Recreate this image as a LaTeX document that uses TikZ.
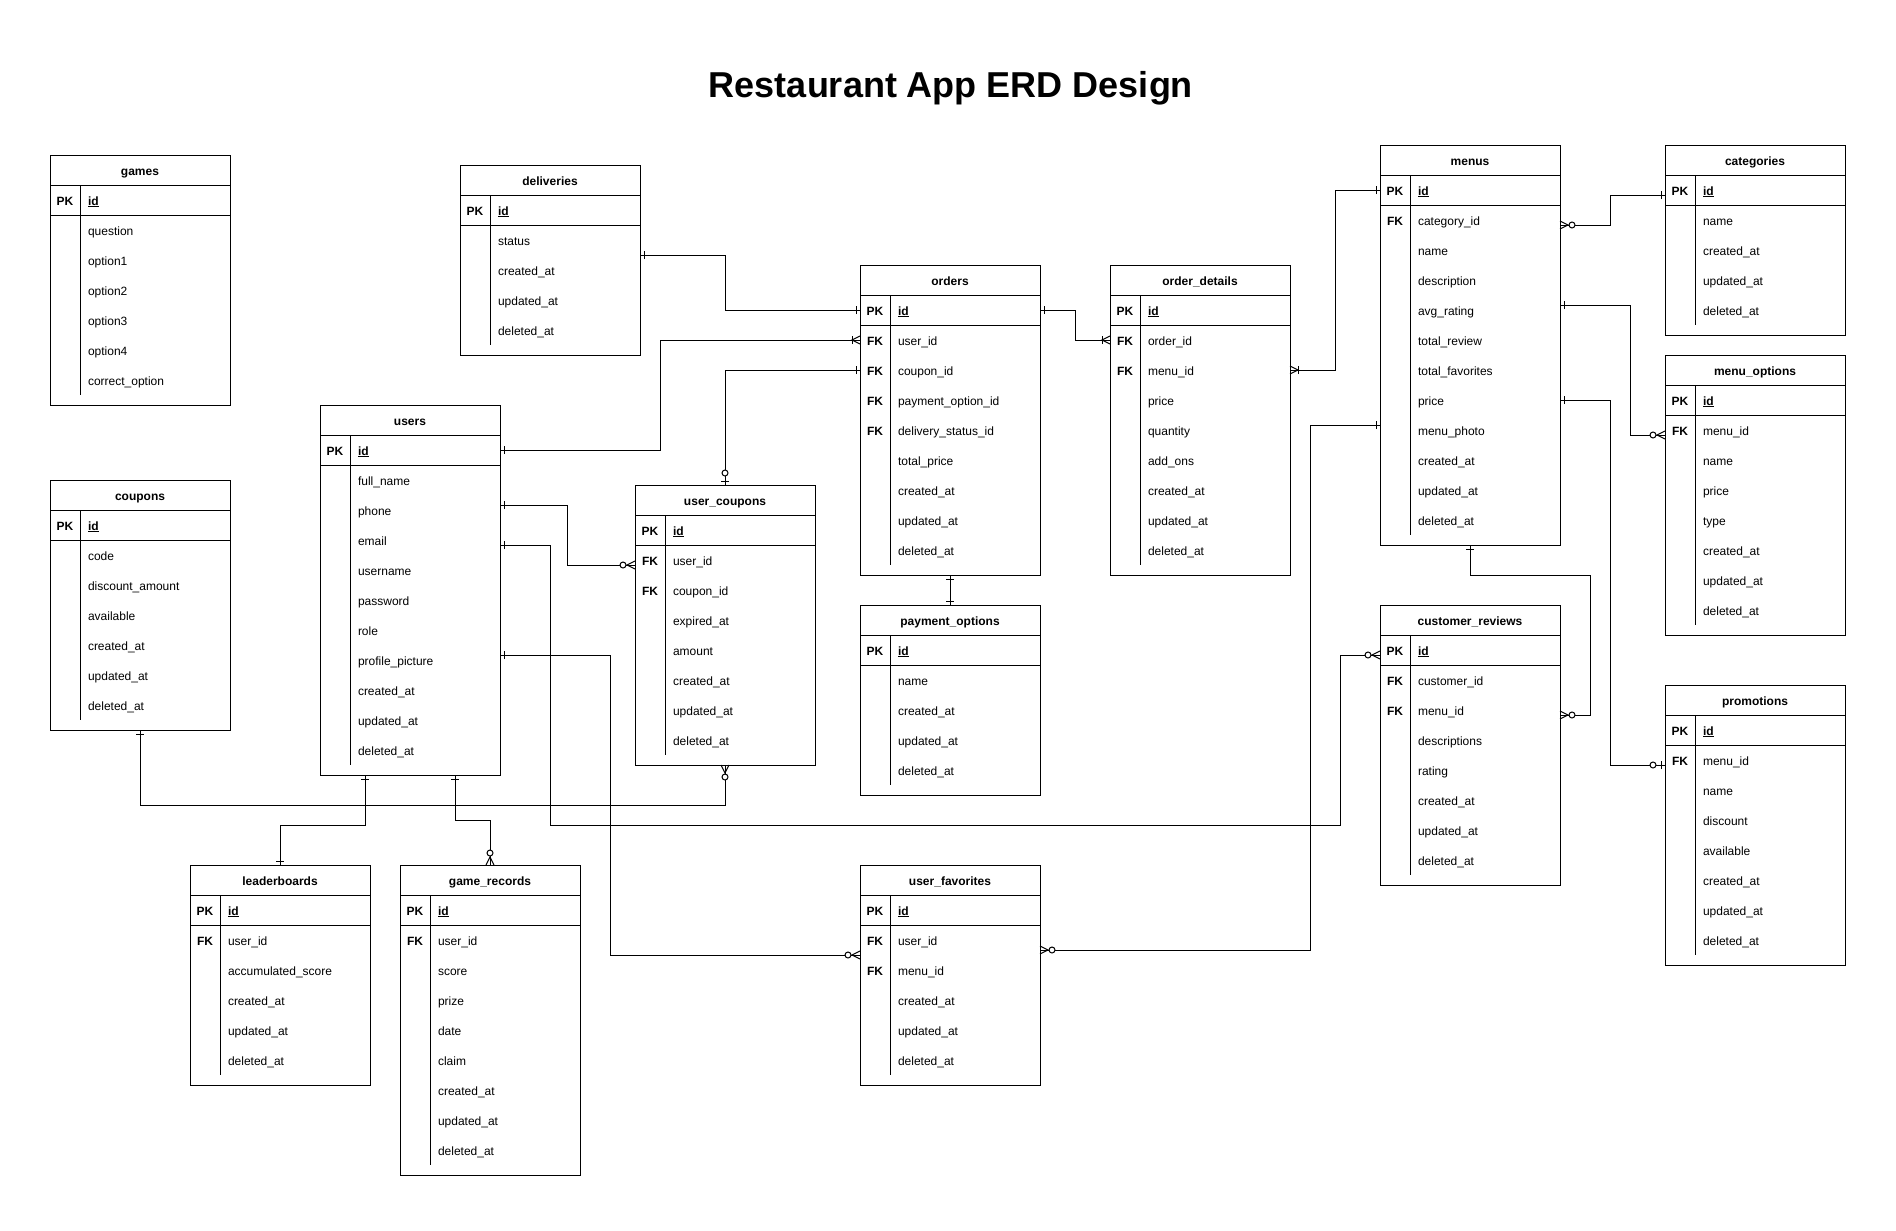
\documentclass[tikz,border=0pt]{standalone}
\usepackage{fontspec}
\setmainfont{Liberation Sans}
\usetikzlibrary{calc,decorations.markings}
\newcommand\pkid{\textbf{\underline{id}}}
\newcommand\mkOne{\draw (-4pt,-4pt)--(-4pt,4pt);}
\newcommand\mkZOne{\draw (-4pt,-4pt)--(-4pt,4pt); \draw[fill=white] (-12pt,0pt) circle[radius=3pt];}
\newcommand\mkOMany{\draw (0pt,-4pt)--(-8pt,0pt)--(0pt,4pt); \draw (-8pt,-4pt)--(-8pt,4pt);}
\newcommand\mkZMany{\draw (0pt,-4pt)--(-8pt,0pt)--(0pt,4pt); \draw[fill=white] (-12pt,0pt) circle[radius=3pt];}
\tikzset{
  tframe/.style={draw, fill=white, minimum width=180pt, inner sep=0pt, outer sep=0pt, anchor=north west},
  trow/.style={minimum width=180pt, minimum height=30pt, inner sep=0pt, outer sep=0pt},
  ttext/.style={inner sep=0pt, outer sep=0pt, font=\fontsize{12}{14}\selectfont, text height=11pt, text depth=1pt},
  thead/.style={ttext, font=\fontsize{12}{14}\selectfont\bfseries},
  tkey/.style={ttext, font=\fontsize{12}{14}\selectfont\bfseries},
  tfield/.style={ttext, anchor=west},
  conn/.style={line width=1pt},
  tipend/.style={postaction={decorate,decoration={markings,mark=at position 1 with {#1}}}},
  tipstart/.style={postaction={decorate,decoration={markings,mark=at position 0 with {\begin{scope}[xscale=-1]#1\end{scope}}}}},
}
% #1 name, #2 x, #3 y, #4 title, #5 number of rows, #6 rows key/field
\newcommand\erdtable[6]{%
  \pgfmathsetmacro\tblh{30*(#5+1)+10}%
  \node[tframe, minimum height=\tblh pt] (#1) at (#2,#3) {};
  \node[thead] (#1-h) at (#2+90,#3+15) {#4};
  \draw (#2,#3+30) -- ++(180,0);
  \draw (#2,#3+60) -- ++(180,0);
  \draw (#2+30,#3+30) -- (#2+30,{#3+30*(#5+1)});
  \foreach [count=\i] \k/\f in {#6} {
    \node[trow] (#1-r\i) at (#2+90,{#3+30*\i+15}) {};
    \node[tkey] at (#2+15,{#3+30*\i+15}) {\k};
    \node[tfield] at (#2+38,{#3+30*\i+15}) {\f};
  }
}
\begin{document}
\begin{tikzpicture}[x=1pt,y=-1pt,line width=1pt]
\fill[white] (0,0) rectangle (1896,1231);
\useasboundingbox (0,0) rectangle (1896,1231);

\node[anchor=base, font=\fontsize{36}{40}\selectfont\bfseries] (title) at (951,98) {Restaurant App ERD Design};

\erdtable{games}{50}{155}{games}{7}{PK/\pkid, /question, /option1, /option2, /option3, /option4, /correct\_option}
\erdtable{deliv}{460}{165}{deliveries}{5}{PK/\pkid, /status, /created\_at, /updated\_at, /deleted\_at}
\erdtable{users}{320}{405}{users}{11}{PK/\pkid, /full\_name, /phone, /email, /username, /password, /role, /profile\_picture, /created\_at, /updated\_at, /deleted\_at}
\erdtable{coupons}{50}{480}{coupons}{7}{PK/\pkid, /code, /discount\_amount, /available, /created\_at, /updated\_at, /deleted\_at}
\erdtable{orders}{860}{265}{orders}{9}{PK/\pkid, FK/user\_id, FK/coupon\_id, FK/payment\_option\_id, FK/delivery\_status\_id, /total\_price, /created\_at, /updated\_at, /deleted\_at}
\erdtable{odet}{1110}{265}{order\_details}{9}{PK/\pkid, FK/order\_id, FK/menu\_id, /price, /quantity, /add\_ons, /created\_at, /updated\_at, /deleted\_at}
\erdtable{menus}{1380}{145}{menus}{12}{PK/\pkid, FK/category\_id, /name, /description, /avg\_rating, /total\_review, /total\_favorites, /price, /menu\_photo, /created\_at, /updated\_at, /deleted\_at}
\erdtable{cats}{1665}{145}{categories}{5}{PK/\pkid, /name, /created\_at, /updated\_at, /deleted\_at}
\erdtable{mopt}{1665}{355}{menu\_options}{8}{PK/\pkid, FK/menu\_id, /name, /price, /type, /created\_at, /updated\_at, /deleted\_at}
\erdtable{promo}{1665}{685}{promotions}{8}{PK/\pkid, FK/menu\_id, /name, /discount, /available, /created\_at, /updated\_at, /deleted\_at}
\erdtable{crev}{1380}{605}{customer\_reviews}{8}{PK/\pkid, FK/customer\_id, FK/menu\_id, /descriptions, /rating, /created\_at, /updated\_at, /deleted\_at}
\erdtable{ucoup}{635}{485}{user\_coupons}{8}{PK/\pkid, FK/user\_id, FK/coupon\_id, /expired\_at, /amount, /created\_at, /updated\_at, /deleted\_at}
\erdtable{payopt}{860}{605}{payment\_options}{5}{PK/\pkid, /name, /created\_at, /updated\_at, /deleted\_at}
\erdtable{lead}{190}{865}{leaderboards}{6}{PK/\pkid, FK/user\_id, /accumulated\_score, /created\_at, /updated\_at, /deleted\_at}
\erdtable{grec}{400}{865}{game\_records}{9}{PK/\pkid, FK/user\_id, /score, /prize, /date, /claim, /created\_at, /updated\_at, /deleted\_at}
\erdtable{ufav}{860}{865}{user\_favorites}{6}{PK/\pkid, FK/user\_id, FK/menu\_id, /created\_at, /updated\_at, /deleted\_at}

% connectors
\draw[conn, tipstart=\mkOne, tipend=\mkOne] (deliv-r2.south east) -- ++(85,0) |- (orders-r1.west);
\draw[conn, tipstart=\mkOne, tipend=\mkOMany] (users-r1.east) -- ++(160,0) |- (orders-r2.west);
\draw[conn, tipstart=\mkZOne, tipend=\mkOne] (ucoup.north) |- (orders-r3.west);
\draw[conn, tipstart=\mkOne, tipend=\mkOMany] (orders-r1.east) -- ++(35,0) |- (odet-r2.west);
\draw[conn, tipstart=\mkOMany, tipend=\mkOne] (odet-r3.east) -- ++(45,0) |- (menus-r1.west);
\draw[conn, tipstart=\mkOne, tipend=\mkOne] (orders.south) -- (payopt.north);
\draw[conn, tipstart=\mkZMany, tipend=\mkOne] ($(menus-r2.east)+(0,5)$) -- ++(50,0) |- ($(cats-r1.west)+(0,5)$);
\draw[conn, tipstart=\mkOne, tipend=\mkZMany] ($(menus-r5.east)+(0,-5)$) -- ++(70,0) |- ($(mopt-r2.west)+(0,5)$);
\draw[conn, tipstart=\mkOne, tipend=\mkZOne] (menus-r8.east) -- ++(50,0) |- ($(promo-r2.west)+(0,5)$);
\draw[conn, tipstart=\mkOne, tipend=\mkZMany] (menus.south) -- ++(0,30) -- ++(120,0) |- ($(crev-r3.east)+(0,5)$);
\draw[conn, tipstart=\mkOne, tipend=\mkZMany] ($(users-r3.east)+(0,-5)$) -- ++(67,0) |- ($(ucoup-r2.west)+(0,5)$);
\draw[conn, tipstart=\mkOne, tipend=\mkZMany] ($(users-r4.east)+(0,5)$) -- ++(50,0) -- ++(0,280) -- ++(790,0) |- ($(crev-r1.west)+(0,5)$);
\draw[conn, tipstart=\mkOne, tipend=\mkZMany] ($(users-r8.east)+(0,-5)$) -- ++(110,0) |- (ufav-r2.south west);
\draw[conn, tipstart=\mkZMany, tipend=\mkOne] ($(ufav-r2.east)+(0,10)$) -- ++(270,0) |- ($(menus-r9.west)+(0,-5)$);
\draw[conn, tipstart=\mkOne, tipend=\mkZMany] (coupons.south) -- ++(0,75) -| (ucoup.south);
\draw[conn, tipstart=\mkOne, tipend=\mkOne] ($(users.south west)+(45,0)$) -- ++(0,50) -| (lead.north);
\draw[conn, tipstart=\mkOne, tipend=\mkZMany] ($(users.south west)+(135,0)$) -- ++(0,45) -| (grec.north);
\end{tikzpicture}
\end{document}
